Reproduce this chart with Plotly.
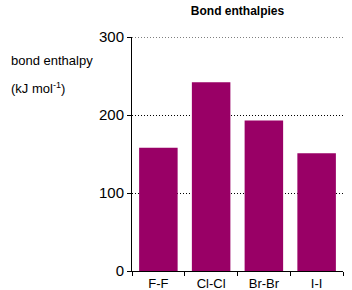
import plotly.graph_objects as go

categories = ["F-F", "Cl-Cl", "Br-Br", "I-I"]
values = [158, 242, 193, 151]
y_ticks = [0, 100, 200, 300]

fig = go.Figure()
fig.add_trace(go.Bar(x=categories, y=values, marker=dict(color="#990066", line=dict(width=0)),
                     width=0.73))

font_family = "Liberation Sans, Arial, sans-serif"
L, R, T, B = 132, 9, 37, 19
W, H = 352, 290
pw, ph = W - L - R, H - T - B


def px_to_paper(px, py):
    return (px - L) / pw, (H - B - py) / ph


ax1, ay1 = px_to_paper(9, 60)
ax2, ay2 = px_to_paper(9, 88)

fig.update_layout(
    width=W, height=H,
    margin=dict(l=L, r=R, t=T, b=B, autoexpand=False),
    paper_bgcolor="white", plot_bgcolor="white",
    font=dict(family=font_family, size=14, color="black"),
    showlegend=False,
    title=dict(text="<b>Bond enthalpies</b>", x=(L + W - R) / 2 / W, xanchor="center",
               y=1 - 11 / H, yanchor="middle", font=dict(size=12, family=font_family)),
    xaxis=dict(range=[-0.5, 3.5], showline=True, linecolor="black", linewidth=1,
               ticks="outside", tickson="boundaries", ticklen=4, tickcolor="black",
               showgrid=False, tickfont=dict(size=13), automargin=False),
    yaxis=dict(range=[0, 300], tickvals=y_ticks, showline=True, linecolor="black", linewidth=1,
               ticks="outside", ticklen=4, tickcolor="black", showgrid=True,
               gridcolor="black", griddash="1px,2px", gridwidth=1, zeroline=False,
               tickfont=dict(size=15), automargin=False),
    shapes=[dict(type="line", xref="paper", yref="y", x0=0, x1=1, y0=y_ticks[-1], y1=y_ticks[-1],
                 line=dict(color="black", width=1, dash="1px,2px"), layer="below")],
    annotations=[
        dict(text="bond enthalpy", x=ax1, y=ay1, xref="paper", yref="paper", showarrow=False,
             xanchor="left", yanchor="middle", font=dict(size=13, family=font_family)),
        dict(text="(kJ mol<sup>-1</sup>)", x=ax2, y=ay2, xref="paper", yref="paper", showarrow=False,
             xanchor="left", yanchor="middle", font=dict(size=13, family=font_family)),
    ],
)
fig.write_html("out.html")
